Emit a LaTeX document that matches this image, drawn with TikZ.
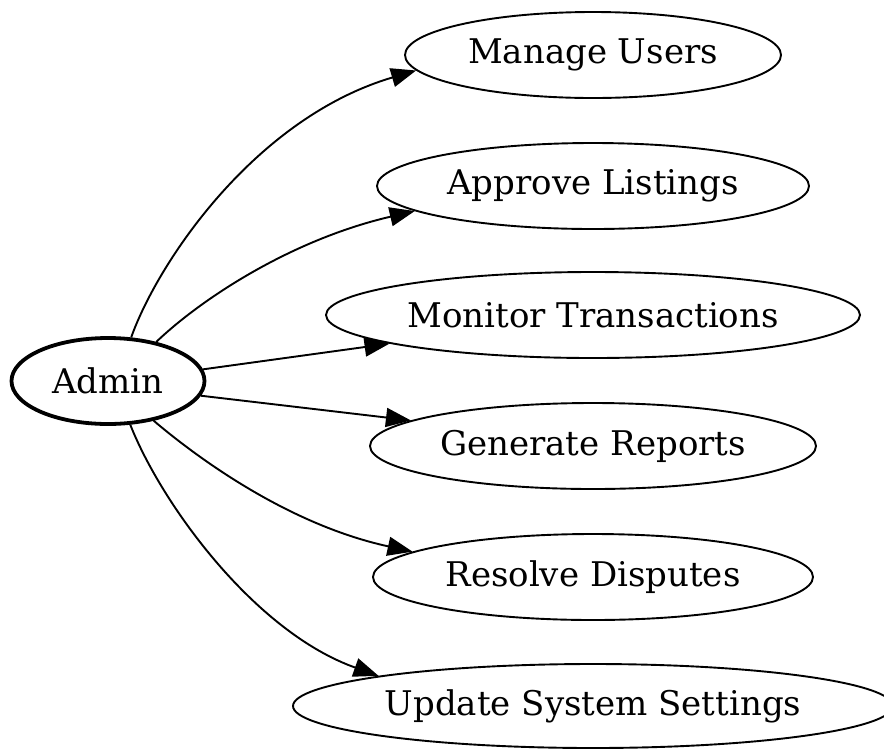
\documentclass[tikz,border=0pt]{standalone}
\usepackage{fontspec}
\setmainfont{DejaVu Serif}
\usetikzlibrary{shapes.geometric,arrows.meta}

\tikzset{
  usecase/.style={draw=black, line width=1.9pt, ellipse, inner sep=0pt,
    font=\fontsize{34}{37}\selectfont, text=black},
  actor/.style={usecase, line width=3.8pt},
  link/.style={draw=black, line width=1.9pt,
    -{Triangle[length=25pt,width=19pt]}}
}

\begin{document}
\begin{tikzpicture}[x=1pt,y=-1pt]
  \useasboundingbox (0,0) rectangle (884,748);
  \clip (0,0) rectangle (884,748);

  % the actor
  \node[actor, minimum width=193pt, minimum height=86pt] (admin) at (108,381) {Admin};

  % use cases
  \node[usecase, minimum width=376pt, minimum height=86pt] (mu) at (593,55) {Manage Users};
  \node[usecase, minimum width=432pt, minimum height=86pt] (al) at (593,186) {Approve Listings};
  \node[usecase, minimum width=534pt, minimum height=86pt] (mt) at (593,315) {Monitor Transactions};
  \node[usecase, minimum width=446pt, minimum height=86pt] (gr) at (593,446) {Generate Reports};
  \node[usecase, minimum width=440pt, minimum height=86pt] (rd) at (593,577) {Resolve Disputes};
  \node[usecase, minimum width=600pt, minimum height=84pt] (us) at (593,706) {Update System Settings};

  % associations
  \draw[link] (admin.62) .. controls (158,262) and (255,118) .. (mu.185.5);
  \draw[link] (admin.39) .. controls (200,300) and (290,240) .. (al.188.5);
  \draw[link] (admin.7) -- (mt.188);
  \draw[link] (admin.-9) -- (gr.172.5);
  \draw[link] (admin.-41) .. controls (200,460) and (290,525) .. (rd.172);
  \draw[link] (admin.-63) .. controls (162,505) and (255,632) .. (us.172.8);
\end{tikzpicture}
\end{document}
